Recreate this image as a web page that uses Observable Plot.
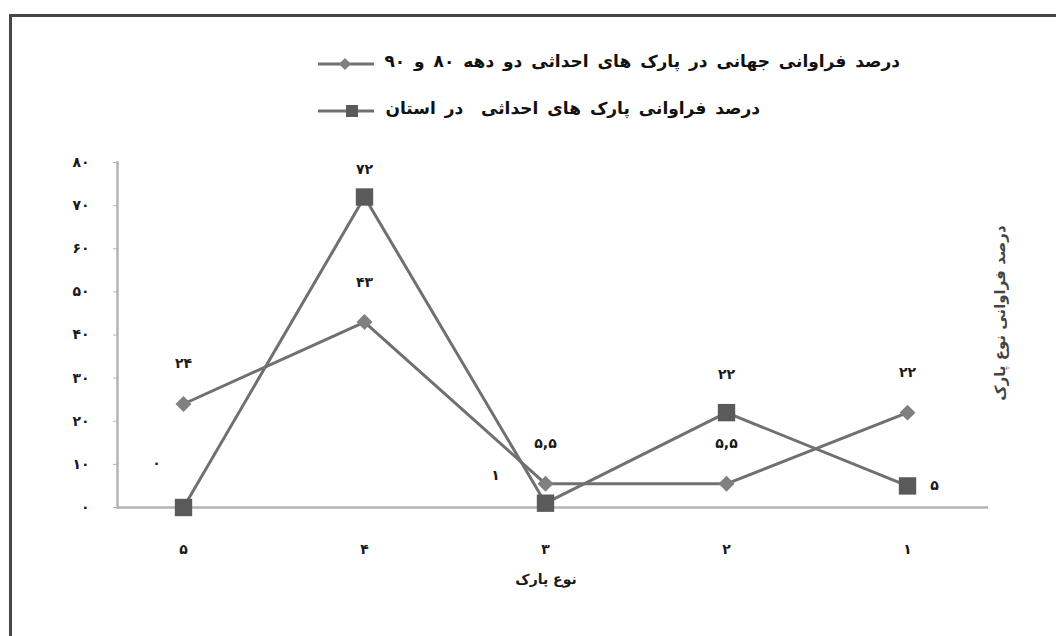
<!DOCTYPE html>
<html>
<head>
<meta charset="utf-8">
<script src="https://cdn.jsdelivr.net/npm/d3@7"></script>
<script src="https://cdn.jsdelivr.net/npm/@observablehq/plot@0.6"></script>
<style>
  html, body { margin: 0; padding: 0; background: #fff; }
  #wrap { position: relative; width: 1056px; height: 636px; overflow: hidden; background: #fff; font-family: "DejaVu Sans", sans-serif; }
  #border { position: absolute; left: 9px; top: 14px; right: -10px; bottom: -10px; border-top: 3px solid #474747; border-left: 3px solid #474747; pointer-events: none; }
  #legend { position: relative; height: 140px; }
  .lg-text { position: absolute; direction: rtl; font-weight: bold; font-size: 17px; word-spacing: 3px; color: #111; white-space: pre; }
  .lg-mark { position: absolute; }
  #chart svg { display: block; }
</style>
</head>
<body>
<div id="wrap">
  <div id="legend"></div>
  <div id="chart"></div>
  <div id="border"></div>
</div>
<script>
// ---- data ----
const categories = ["5", "4", "3", "2", "1"];
const worldValues = [24, 43, 5.5, 5.5, 22];
const provinceValues = [0, 72, 1, 22, 5];
const yTicks = [0, 10, 20, 30, 40, 50, 60, 70, 80];
const seriesNames = [
  "درصد فراوانی جهانی در پارک های احداثی دو دهه ۸۰ و ۹۰",
  "درصد فراوانی پارک های احداثی  در استان"
];
const xTitle = "نوع پارک";
const yTitle = "درصد فراوانی نوع پارک";

const faDigits = "۰۱۲۳۴۵۶۷۸۹";
const toFa = (v) => String(v).replace(/\d/g, (d) => faDigits[+d]).replace(".", ",");

const world = categories.map((c, i) => ({cat: c, v: worldValues[i], i}));
const province = categories.map((c, i) => ({cat: c, v: provinceValues[i], i}));

const lineColor = "#707070";
const diamondColor = "#808080";
const squareColor = "#5a5a5a";
const axisColor = "#b4b4b4";

// ---- legend (HTML) ----
const legend = document.getElementById("legend");
function addLegendRow(top, rightPx, text, symbol) {
  const t = document.createElement("div");
  t.className = "lg-text";
  t.style.top = top + "px";
  t.style.right = rightPx + "px";
  t.textContent = text;
  legend.appendChild(t);
  const s = d3.create("svg").attr("class", "lg-mark").attr("width", 62).attr("height", 24)
    .style("left", "316px").style("top", (top + 1) + "px");
  s.append("line").attr("x1", 2).attr("x2", 58).attr("y1", 12).attr("y2", 12)
    .attr("stroke", lineColor).attr("stroke-width", 3);
  if (symbol === "diamond") {
    s.append("path").attr("d", "M29,6L35,12L29,18L23,12Z").attr("fill", diamondColor);
  } else {
    s.append("rect").attr("x", 30).attr("y", 6).attr("width", 12).attr("height", 12).attr("fill", squareColor);
  }
  legend.appendChild(s.node());
}
addLegendRow(51, 156, seriesNames[0], "diamond");
addLegendRow(98, 296, seriesNames[1], "square");

// ---- chart ----
const labelStyle = {fontSize: 14, fontWeight: "bold", fill: "#1a1a1a", fontFamily: "DejaVu Sans"};
const pText = (filter, opts) => Plot.text(province, {x: "cat", y: "v", text: (d) => toFa(d.v), filter, ...labelStyle, ...opts});

const chart = Plot.plot({
  width: 1056,
  height: 496,
  marginLeft: 117,
  marginRight: 68,
  marginTop: 22,
  marginBottom: 129,
  style: {fontFamily: "DejaVu Sans", background: "transparent"},
  x: {type: "point", domain: categories, padding: 0, insetLeft: 65, insetRight: 80},
  y: {domain: [0, 80]},
  marks: [
    Plot.frame({anchor: "left", stroke: axisColor, strokeWidth: 2.5}),
    Plot.ruleY([0], {stroke: axisColor, strokeWidth: 2.5}),
    Plot.axisY({ticks: yTicks, tickFormat: toFa, tickSize: 4, tickPadding: 24, stroke: axisColor, fontSize: 14, fontWeight: "bold", fill: "#1a1a1a", label: null}),
    Plot.axisX({tickSize: 0, tickPadding: 37, tickFormat: toFa, fontSize: 14, fontWeight: "bold", fill: "#1a1a1a", label: null}),
    Plot.line(world, {x: "cat", y: "v", stroke: lineColor, strokeWidth: 3}),
    Plot.line(province, {x: "cat", y: "v", stroke: lineColor, strokeWidth: 3}),
    Plot.dot(world, {x: "cat", y: "v", symbol: "diamond2", r: 7.2, fill: diamondColor, stroke: "none"}),
    Plot.dot(province, {x: "cat", y: "v", symbol: "square", r: 9.8, fill: squareColor, stroke: "none"}),
    Plot.text(world, {x: "cat", y: "v", text: (d) => toFa(d.v), dy: -40, ...labelStyle}),
    pText((d) => d.i === 0, {dx: -27, dy: -44}),
    pText((d) => d.i === 1, {dy: -27}),
    pText((d) => d.i === 2, {dx: -50, dy: -28}),
    pText((d) => d.i === 3, {dy: -38}),
    pText((d) => d.i === 4, {dx: 27}),
    Plot.text([xTitle], {frameAnchor: "bottom", dx: -7, dy: 76, text: (d) => d, ...labelStyle}),
    Plot.text([yTitle], {frameAnchor: "right", textAnchor: "middle", dx: 12, dy: -22, rotate: -90, text: (d) => d, fontSize: 15, fontWeight: "bold", fill: "#444", fontFamily: "DejaVu Sans"})
  ]
});
document.getElementById("chart").appendChild(chart);
</script>
</body>
</html>
